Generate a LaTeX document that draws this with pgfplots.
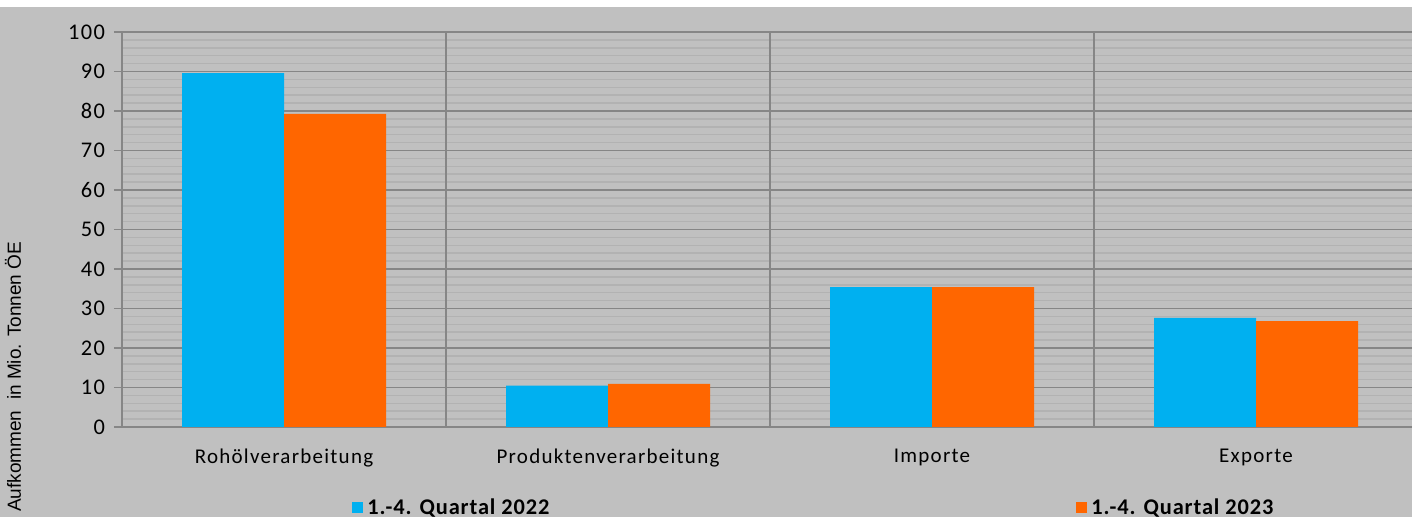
\documentclass[border=0pt]{standalone}
\usepackage{fontspec}
\setmainfont{Carlito}
\newfontfamily\arialf{Liberation Sans}
\usepackage{pgfplots}
\pgfplotsset{compat=1.18}
\definecolor{bg}{HTML}{C0C0C0}
\definecolor{gmaj}{HTML}{868686}
\definecolor{gmin}{HTML}{B2B2B2}
\definecolor{cblue}{HTML}{00B0F0}
\definecolor{corange}{HTML}{FF6600}
\begin{document}
\begin{tikzpicture}[x=1pt,y=1pt]
\path[use as bounding box] (0,0) rectangle (706,258.5);
\clip (0,0) rectangle (706,258.5);
\fill[bg] (0,0) rectangle (706,255);
\fill[white] (0,255) rectangle (706,258.5);
\begin{axis}[
  at={(61pt,45pt)}, anchor=south west,
  scale only axis, width=648pt, height=197.5pt,
  xmin=-0.5, xmax=3.5, ymin=0, ymax=100,
  /pgf/number format/assume math mode=true,
  axis background/.style={fill=bg},
  axis line style={draw=gmaj, line width=0.75pt},
  ytick={0,10,...,100}, minor y tick num=4,
  ymajorgrids, yminorgrids,
  major grid style={draw=gmaj, line width=0.75pt},
  minor grid style={draw=gmin, line width=0.75pt},
  ytick style={draw=gmaj, line width=0.75pt},
  major tick length=4pt, minor tick length=0pt,
  tick align=outside,
  xtick={0,1,2,3},
  xticklabels={Rohölverarbeitung,Produktenverarbeitung,Importe,Exporte},
  xtick style={draw=none},
  extra x ticks={0.5,1.5,2.5},
  extra x tick labels={},
  extra x tick style={xmajorgrids=true, ymajorgrids=false, yminorgrids=false},
  ticklabel style={font=\fontsize{10.5}{12}\selectfont\addfontfeatures{LetterSpace=6}},
  xticklabel style={yshift=-3.5pt},
  yticklabel style={xshift=-1pt, font=\fontsize{11.2}{12}\selectfont\addfontfeatures{LetterSpace=6}},
  ylabel={\arialf\fontsize{9.5}{11}\selectfont Aufkommen\ \ in Mio. Tonnen ÖE},
  ylabel style={at={(rel axis cs:0,0.127)}, anchor=center, yshift=54.5pt},
  ybar=0pt, bar width=51pt,
  legend columns=2,
  legend style={draw=none, fill=none, at={(rel axis cs:0,0)}, anchor=west,
    xshift=115pt, yshift=-40.5pt, inner sep=0pt,
    font=\fontsize{11.2}{12}\selectfont\bfseries\addfontfeatures{LetterSpace=4}},
  legend image code/.code={\fill[#1] (0pt,-2.75pt) rectangle (5.5pt,2.75pt);},
]
\addplot[fill=cblue, draw=none] coordinates {(0,89.6) (1,10.5) (2,35.4) (3,27.6)};
\addplot[fill=corange, draw=none] coordinates {(0,79.3) (1,10.9) (2,35.4) (3,26.8)};
\legend{\makebox[352.5pt][l]{1.-4. Quartal 2022}, 1.-4. Quartal 2023}
\end{axis}
\end{tikzpicture}
\end{document}
